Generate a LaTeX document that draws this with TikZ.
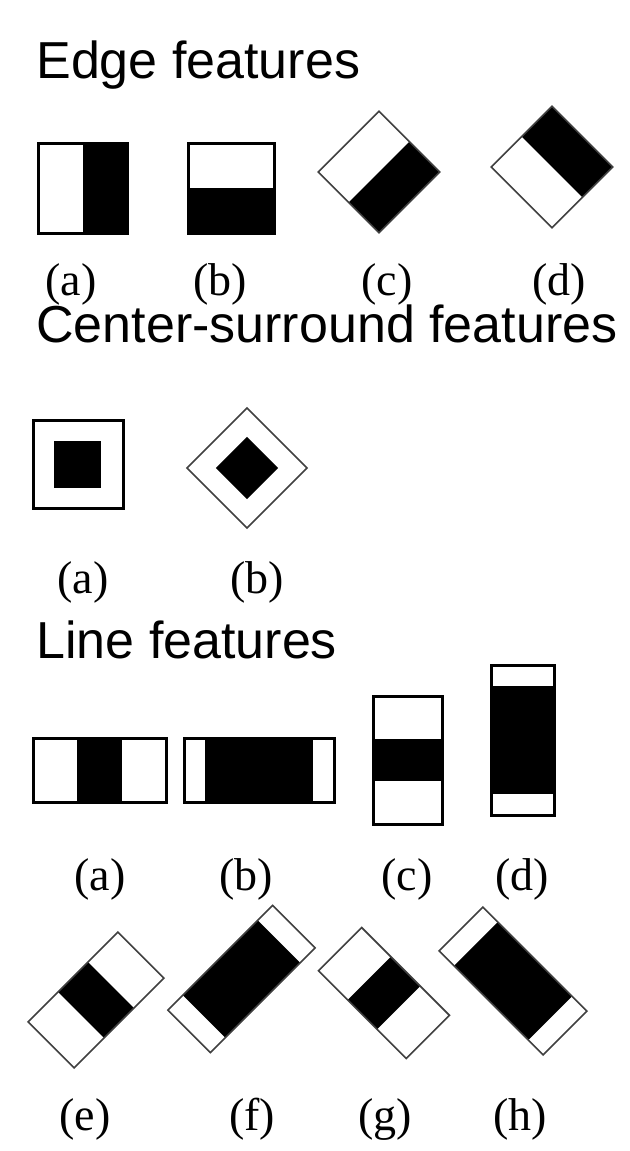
\documentclass[tikz,border=0pt]{standalone}
\usepackage{fontspec}
\setmainfont{Liberation Serif}
\newfontfamily\headfont{Liberation Sans}
\begin{document}
\begin{tikzpicture}[x=0.5pt,y=-0.5pt,
  heading/.style={anchor=base west,inner sep=0pt,font=\headfont\fontsize{26}{30}\selectfont},
  tag/.style={anchor=base,inner sep=0pt,font=\fontsize{23}{26}\selectfont},
  thick frame/.style={draw=black,line width=1.5pt},
  thin frame/.style={draw=black!75,line width=0.8pt},
  dark/.style={fill=black}]
\useasboundingbox[fill=white] (0,0) rectangle (630,1151);

% ---- Edge features ----
\node[heading] (h1) at (36,78) {Edge features};
\fill[dark] (82.5,143) rectangle (127,233);
\draw[thick frame] (38,143) rectangle (127,233);
\fill[dark] (188,188) rectangle (274,233);
\draw[thick frame] (188,143) rectangle (274,233);
\begin{scope}[shift={(379,172)},rotate=45]
  \fill[dark] (-43,0) rectangle (43,43);
  \draw[thin frame] (-43,-43) rectangle (43,43);
\end{scope}
\begin{scope}[shift={(552,167)},rotate=45]
  \fill[dark] (0,-43) rectangle (43,43);
  \draw[thin frame] (-43,-43) rectangle (43,43);
\end{scope}
\node[tag] (ea) at (71,295) {(a)};
\node[tag] (eb) at (220,295) {(b)};
\node[tag] (ec) at (387,295) {(c)};
\node[tag] (ed) at (559,295) {(d)};

% ---- Center-surround features ----
\node[heading] (h2) at (36,342) {Center-surround features};
\draw[thick frame] (33,420) rectangle (123,508);
\fill[dark] (54,441) rectangle (101,488);
\begin{scope}[shift={(247,468)},rotate=45]
  \draw[thin frame] (-42.5,-42.5) rectangle (42.5,42.5);
  \fill[dark] (-22,-22) rectangle (22,22);
\end{scope}
\node[tag] (ca) at (83,593) {(a)};
\node[tag] (cb) at (257,593) {(b)};

% ---- Line features ----
\node[heading] (h3) at (36,658) {Line features};
\fill[dark] (77.3,738) rectangle (121.7,802);
\draw[thick frame] (33,738) rectangle (166,802);
\fill[dark] (205,738) rectangle (313,802);
\draw[thick frame] (184,738) rectangle (334,802);
\fill[dark] (373,738.7) rectangle (442,781.3);
\draw[thick frame] (373,696) rectangle (442,824);
\fill[dark] (491,686) rectangle (554,794);
\draw[thick frame] (491,665) rectangle (554,815);
\node[tag] (la) at (100,890) {(a)};
\node[tag] (lb) at (246,890) {(b)};
\node[tag] (lc) at (407,890) {(c)};
\node[tag] (ld) at (522,890) {(d)};

% rotated line features
\begin{scope}[shift={(96,1000)},rotate=45]
  \fill[dark] (-21.2,-32.5) rectangle (21.2,32.5);
  \draw[thin frame] (-63.5,-32.5) rectangle (63.5,32.5);
\end{scope}
\begin{scope}[shift={(241.5,979)},rotate=45]
  \fill[dark] (-53,-30) rectangle (53,30);
  \draw[thin frame] (-74,-30) rectangle (74,30);
\end{scope}
\begin{scope}[shift={(384,993)},rotate=-45]
  \fill[dark] (-20.7,-30.5) rectangle (20.7,30.5);
  \draw[thin frame] (-62,-30.5) rectangle (62,30.5);
\end{scope}
\begin{scope}[shift={(513,981)},rotate=-45]
  \fill[dark] (-52.5,-31) rectangle (52.5,31);
  \draw[thin frame] (-73.5,-31) rectangle (73.5,31);
\end{scope}
\node[tag] (le) at (85,1130) {(e)};
\node[tag] (lf) at (252,1130) {(f)};
\node[tag] (lg) at (385,1130) {(g)};
\node[tag] (lh) at (520,1130) {(h)};
\end{tikzpicture}
\end{document}
